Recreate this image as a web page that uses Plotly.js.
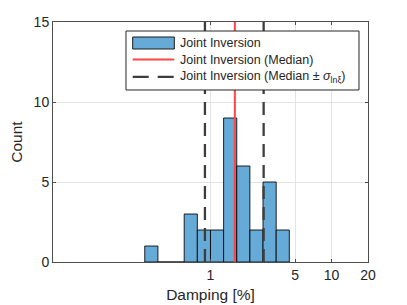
<!DOCTYPE html>
<html>
<head>
<meta charset="utf-8">
<script src="https://cdn.plot.ly/plotly-3.0.1.min.js"></script>
<style>html,body{margin:0;padding:0;background:#fff;}#chart{width:407px;height:305px;}</style>
</head>
<body>
<div id="chart"></div>
<script>
// Histogram bin edges, in ln(damping %), and counts per bin
const binEdgesLn = [-1.25, -1.0, -0.75, -0.5, -0.25, 0, 0.25, 0.5, 0.75, 1.0, 1.25, 1.5];
const binCounts = [1, 0, 0, 3, 2, 2, 9, 6, 2, 5, 2];
// Median and median +/- sigma (damping %)
const medianDamping = 1.59;
const sigmaBounds = [0.90, 2.75];
// Axis ticks
const xTickValues = [1, 5, 10, 20];
const xTickLabels = ['1', '5', '10', '20'];
const yTickValues = [0, 5, 10, 15];
const xRange = [0.05, 20];
const yRange = [0, 15];
const seriesNames = ['Joint Inversion', 'Joint Inversion (Median)', 'Joint Inversion (Median \u00b1 <i>\u03c3</i><sub>ln\u03be</sub>)'];

const LN10 = Math.log(10);
const centers = [], widths = [];
for (let i = 0; i < binCounts.length; i++) {
  const a = binEdgesLn[i] / LN10, b = binEdgesLn[i + 1] / LN10;
  centers.push((a + b) / 2);
  widths.push(b - a);
}
const lg = v => Math.log10(v);
const FONT = 'Liberation Sans, Arial, Helvetica, sans-serif';
const barFill = '#66aad7';
const dashColor = '#3d3d3d';
const redColor = '#ff4545';

const traces = [
  {type: 'bar', x: centers, y: binCounts, width: widths,
   marker: {color: barFill, line: {color: 'rgba(0,0,0,0.85)', width: 1}},
   showlegend: false, hoverinfo: 'skip'},
  {type: 'scatter', mode: 'lines', x: [lg(medianDamping), lg(medianDamping)], y: yRange,
   line: {color: redColor, width: 2}, showlegend: false},
  {type: 'scatter', mode: 'lines', x: [lg(sigmaBounds[0]), lg(sigmaBounds[0])], y: yRange,
   line: {color: dashColor, width: 2.3, dash: '13px,8px'}, showlegend: false},
  {type: 'scatter', mode: 'lines', x: [lg(sigmaBounds[1]), lg(sigmaBounds[1])], y: yRange,
   line: {color: dashColor, width: 2.3, dash: '13px,8px'}, showlegend: false}
];

// legend geometry in paper coords
const L = {x0: 0.2317, x1: 0.9714, y0: 0.7167, y1: 0.9625};
const sw = {x0: 0.253, x1: 0.3851};
const rowY = [0.9125, 0.8435, 0.7715];
const textX = 0.398;

const shapes = [
  {type: 'rect', xref: 'paper', yref: 'paper', x0: L.x0, x1: L.x1, y0: L.y0, y1: L.y1,
   fillcolor: '#ffffff', line: {color: '#262626', width: 1}, layer: 'above'},
  {type: 'rect', xref: 'paper', yref: 'paper', x0: sw.x0, x1: sw.x1, y0: rowY[0] - 0.025, y1: rowY[0] + 0.025,
   fillcolor: barFill, line: {color: '#1a1a1a', width: 1}, layer: 'above'},
  {type: 'line', xref: 'paper', yref: 'paper', x0: sw.x0, x1: sw.x1, y0: rowY[1], y1: rowY[1],
   line: {color: redColor, width: 2}, layer: 'above'},
  {type: 'line', xref: 'paper', yref: 'paper', x0: sw.x0, x1: sw.x1, y0: rowY[2], y1: rowY[2],
   line: {color: dashColor, width: 2.3, dash: '16px,9px'}, layer: 'above'}
];
const annotations = seriesNames.map((t, i) => ({
  xref: 'paper', yref: 'paper', x: textX, y: rowY[i], xanchor: 'left', yanchor: 'middle',
  text: t, showarrow: false, font: {family: FONT, size: 12.5, color: '#262626'}
}));

const axisCommon = {
  showline: true, linecolor: '#4d4d4d', linewidth: 1, mirror: 'ticks',
  ticks: 'inside', ticklen: 3, tickcolor: '#4d4d4d', tickwidth: 1,
  showgrid: true, gridcolor: '#e3e3e3', gridwidth: 1, zeroline: false,
  tickfont: {family: FONT, size: 14, color: '#262626'}
};

const layout = {
  width: 407, height: 305,
  margin: {l: 53, r: 39, t: 22, b: 43},
  paper_bgcolor: '#ffffff', plot_bgcolor: '#ffffff',
  showlegend: false,
  bargap: 0,
  xaxis: Object.assign({}, axisCommon, {
    range: [lg(xRange[0]), lg(xRange[1]) + 0.0005],
    tickmode: 'array', tickvals: xTickValues.map(lg), ticktext: xTickLabels,
    title: {text: 'Damping [%]', font: {family: FONT, size: 15.5, color: '#262626'}, standoff: 7},
    automargin: false
  }),
  yaxis: Object.assign({}, axisCommon, {
    range: yRange, tickmode: 'array', tickvals: yTickValues,
    title: {text: 'Count', font: {family: FONT, size: 15.5, color: '#262626'}, standoff: 7},
    automargin: false
  }),
  shapes: shapes,
  annotations: annotations
};

Plotly.newPlot('chart', traces, layout, {staticPlot: true, displayModeBar: false});
</script>
</body>
</html>
